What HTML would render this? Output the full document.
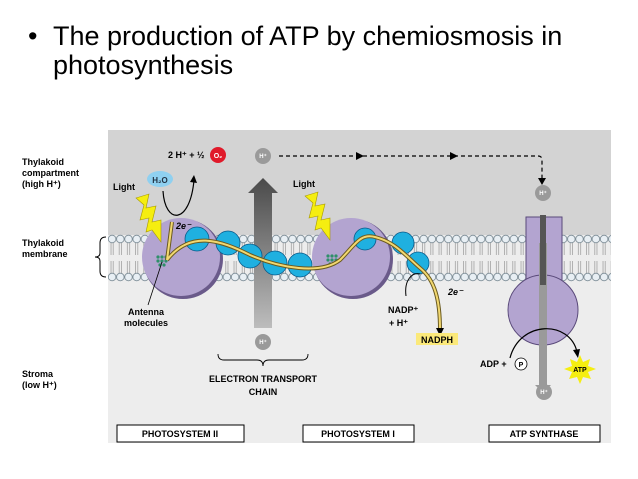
<!DOCTYPE html>
<html><head><style>
body{margin:0;background:#fff;}
svg{display:block;font-family:"Liberation Sans",Arial,sans-serif;}
</style></head><body>
<svg width="638" height="479" viewBox="0 0 638 479" xmlns="http://www.w3.org/2000/svg">
<defs>
<linearGradient id="ga" x1="0" y1="1" x2="0" y2="0"><stop offset="0" stop-color="#bdbdbd"/><stop offset="1" stop-color="#4a4a4a"/></linearGradient>
<pattern id="lip" x="108" y="0" width="8.2" height="479" patternUnits="userSpaceOnUse">
<circle cx="4.1" cy="239" r="3.8" fill="#e8eff4" stroke="#7a8a94" stroke-width="0.8"/>
<circle cx="4.1" cy="277" r="3.8" fill="#e8eff4" stroke="#7a8a94" stroke-width="0.8"/>
<path d="M3 243v12M5.2 243v12M3 261v12M5.2 261v12" stroke="#8a8a8a" stroke-width="0.6"/>
</pattern>
</defs>
<rect width="638" height="479" fill="#fff"/>
<text x="28" y="45" font-size="27" fill="#000">•</text>
<text x="53" y="45" font-size="27" fill="#000">The production of ATP by chemiosmosis in</text>
<text x="53" y="74" font-size="27" fill="#000">photosynthesis</text>
<rect x="108" y="130" width="503" height="313" fill="#ededed"/>
<rect x="108" y="130" width="503" height="105" fill="#d3d3d3"/>
<rect x="108" y="233" width="503" height="49" fill="url(#lip)"/>
<g font-size="9" font-weight="bold" fill="#000">
<text x="22" y="165">Thylakoid</text><text x="22" y="176">compartment</text><text x="22" y="187">(high H⁺)</text>
<text x="22" y="246">Thylakoid</text><text x="22" y="257">membrane</text>
<text x="22" y="377">Stroma</text><text x="22" y="388">(low H⁺)</text>
</g>
<path d="M106 237 q-6 0 -6 6 v10 q0 4 -5 4 q5 0 5 4 v10 q0 6 6 6" fill="none" stroke="#000" stroke-width="1"/>
<path d="M254 328 V193 H248 L263 178 L278 193 H272 V328 Z" fill="url(#ga)"/>
<circle cx="183" cy="259" r="40" fill="#6a5a8a"/>
<circle cx="181" cy="257" r="39" fill="#b3a4d0"/>
<circle cx="353" cy="259" r="40" fill="#6a5a8a"/>
<circle cx="351" cy="257" r="39" fill="#b3a4d0"/>
<rect x="526" y="217" width="36" height="70" fill="#b3a4d0" stroke="#5a4a7a" stroke-width="1"/>
<circle cx="543" cy="310" r="35" fill="#b3a4d0" stroke="#5a4a7a" stroke-width="1"/>
<rect x="527" y="282" width="34" height="10" fill="#b3a4d0"/>
<path d="M539 243 V385 h-4 l8 8 l8 -8 h-4 V243Z" fill="#9a9a9a"/>
<rect x="540" y="215" width="6" height="70" fill="#555"/>
<g fill="#2f8f6a"><circle cx="158" cy="257" r="1.6"/><circle cx="162" cy="257" r="1.6"/><circle cx="166" cy="257" r="1.6"/><circle cx="158" cy="261" r="1.6"/><circle cx="162" cy="261" r="1.6"/><circle cx="166" cy="261" r="1.6"/><circle cx="160" cy="265" r="1.6"/><circle cx="164" cy="265" r="1.6"/>
<circle cx="328" cy="256" r="1.6"/><circle cx="332" cy="256" r="1.6"/><circle cx="336" cy="256" r="1.6"/><circle cx="328" cy="260" r="1.6"/><circle cx="332" cy="260" r="1.6"/><circle cx="336" cy="260" r="1.6"/><circle cx="330" cy="264" r="1.6"/><circle cx="334" cy="264" r="1.6"/></g>
<g fill="#1fb0e0" stroke="#0a5a8a" stroke-width="0.8">
<circle cx="197" cy="239" r="12"/><circle cx="228" cy="243" r="12"/><circle cx="250" cy="256" r="12"/><circle cx="275" cy="263" r="12"/><circle cx="300" cy="265" r="12"/>
<circle cx="365" cy="239" r="11"/><circle cx="403" cy="243" r="11"/><circle cx="418" cy="263" r="11"/>
</g>
<path d="M167 260 L172 222 M167 260 C190 230 220 240 250 255 C280 268 320 275 340 260 C355 245 360 233 375 237 C395 242 405 255 420 268 C435 280 440 300 440 330" fill="none" stroke="#6a5a20" stroke-width="4"/>
<path d="M167 260 L172 222 M167 260 C190 230 220 240 250 255 C280 268 320 275 340 260 C355 245 360 233 375 237 C395 242 405 255 420 268 C435 280 440 300 440 330" fill="none" stroke="#f2d870" stroke-width="2"/>
<path d="M436 328 l4 8 l4 -8z" fill="#000"/>
<path d="M163 191 C165 225 190 225 194 180" fill="none" stroke="#000" stroke-width="1.2"/>
<path d="M190 182 l4 -7 l3 8z" fill="#000"/>
<ellipse cx="160" cy="179" rx="13" ry="8" fill="#8fd0f0"/>
<text x="160" y="183" font-size="8" font-weight="bold" text-anchor="middle" fill="#234">H₂O</text>
<text x="168" y="158" font-size="9" font-weight="bold">2 H⁺ + ½</text>
<circle cx="218" cy="155" r="8" fill="#e01a2a"/>
<text x="218" y="158" font-size="7" font-weight="bold" fill="#fff" text-anchor="middle">O₂</text>
<text x="176" y="229" font-size="9" font-weight="bold" font-style="italic">2e⁻</text>
<path d="M136 198 L149 194 L146 208 L156 206 L152 222 L161 220 L161 242 L152 230 L146 232 L149 218 L140 220 L144 205 Z" fill="#f5ee10" stroke="#a89a00" stroke-width="0.6"/>
<path d="M305 196 L318 192 L315 206 L325 204 L321 220 L330 218 L330 240 L321 228 L315 230 L318 216 L309 218 L313 203 Z" fill="#f5ee10" stroke="#a89a00" stroke-width="0.6"/>
<text x="113" y="190" font-size="9" font-weight="bold">Light</text>
<text x="293" y="187" font-size="9" font-weight="bold">Light</text>
<path d="M162 262 L148 305" stroke="#000" stroke-width="0.8"/>
<text x="146" y="315" font-size="9" font-weight="bold" text-anchor="middle">Antenna</text>
<text x="146" y="326" font-size="9" font-weight="bold" text-anchor="middle">molecules</text>
<g fill="#9a9a9a"><circle cx="263" cy="156" r="8"/><circle cx="263" cy="342" r="8"/><circle cx="543" cy="193" r="8"/><circle cx="544" cy="392" r="8"/></g>
<g font-size="6" fill="#fff" text-anchor="middle" font-weight="bold"><text x="263" y="158">H⁺</text><text x="263" y="344">H⁺</text><text x="543" y="195">H⁺</text><text x="544" y="394">H⁺</text></g>
<path d="M279 156 H538 q4 0 4 4 V178" fill="none" stroke="#000" stroke-width="1.2" stroke-dasharray="4,3"/>
<path d="M356 152 l8 4 l-8 4z M450 152 l8 4 l-8 4z M538 178 l4 7 l4 -7z" fill="#000"/>
<path d="M218 354 q0 6 6 6 h33 q6 0 6 6 q0 -6 6 -6 h33 q6 0 6 -6" fill="none" stroke="#000" stroke-width="0.9"/>
<text x="263" y="382" font-size="9" font-weight="bold" text-anchor="middle">ELECTRON TRANSPORT</text>
<text x="263" y="395" font-size="9" font-weight="bold" text-anchor="middle">CHAIN</text>
<path d="M406 296 C404 280 412 272 420 274" fill="none" stroke="#000" stroke-width="1"/>
<text x="448" y="295" font-size="9" font-weight="bold" font-style="italic">2e⁻</text>
<text x="388" y="313" font-size="9" font-weight="bold">NADP⁺</text>
<text x="389" y="326" font-size="9" font-weight="bold">+ H⁺</text>
<rect x="416" y="333" width="42" height="12" fill="#fbe97a"/>
<text x="437" y="343" font-size="9" font-weight="bold" text-anchor="middle">NADPH</text>
<path d="M510 358 C520 320 570 320 577 352" fill="none" stroke="#000" stroke-width="1.2"/>
<path d="M573 350 l5 8 l2 -9z" fill="#000"/>
<text x="480" y="367" font-size="9" font-weight="bold">ADP +</text>
<circle cx="521" cy="364" r="6" fill="#fff" stroke="#000" stroke-width="0.8"/>
<text x="521" y="367" font-size="7" font-weight="bold" text-anchor="middle">P</text>
<polygon points="580,355 583,362 590,359 588,366 596,369 588,372 591,379 583,377 580,384 577,377 569,379 572,372 564,369 572,366 570,359 577,362" fill="#f5ee10"/>
<text x="580" y="372" font-size="7" font-weight="bold" text-anchor="middle">ATP</text>
<g fill="#fff" stroke="#000" stroke-width="1"><rect x="117" y="425" width="127" height="17"/><rect x="303" y="425" width="111" height="17"/><rect x="489" y="425" width="111" height="17"/></g>
<g font-size="9" font-weight="bold" text-anchor="middle"><text x="180" y="437">PHOTOSYSTEM II</text><text x="358" y="437">PHOTOSYSTEM I</text><text x="544" y="437">ATP SYNTHASE</text></g>
</svg>
</body></html>
